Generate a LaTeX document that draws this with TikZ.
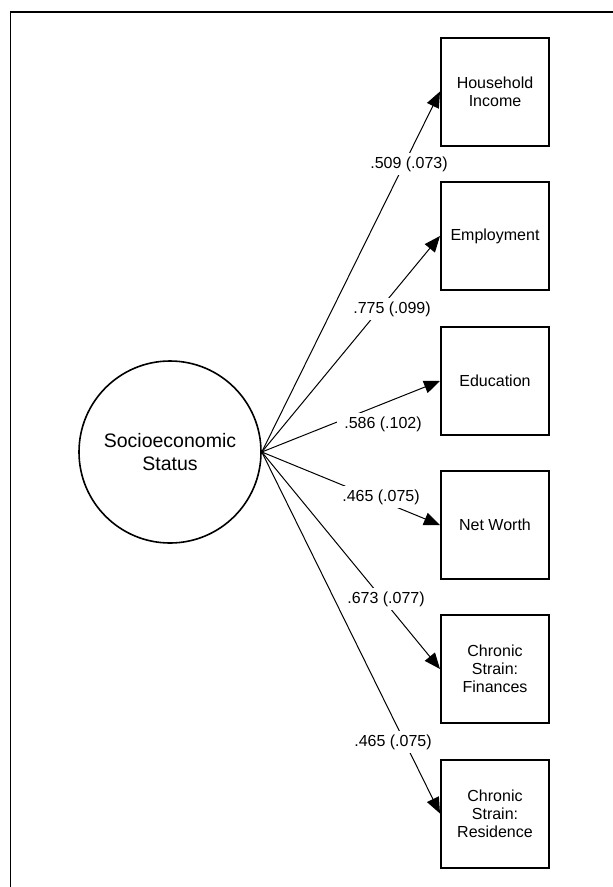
\documentclass[tikz,border=0pt]{standalone}
\usepackage{fontspec}
\setmainfont{Liberation Sans}
\usetikzlibrary{arrows.meta}
\begin{document}
\begin{tikzpicture}[x=1pt,y=-1pt,
  obsbox/.style={draw,line width=2pt,minimum width=108pt,minimum height=108pt,
    align=center,inner sep=0pt,font=\fontsize{16}{18}\selectfont},
  latent/.style={draw,circle,line width=1.6pt,minimum size=182pt,inner sep=0pt,
    align=center,font=\fontsize{19.5}{23}\selectfont},
  loadarrow/.style={line width=1pt,-{Triangle[length=16pt,width=13pt]}},
  coef/.style={fill=white,inner xsep=7pt,inner ysep=4pt,font=\fontsize{16}{18}\selectfont}
]
\path[use as bounding box] (0,0) rectangle (613,887);
\coordinate (frameTL) at (10.7,12);
\coordinate (frameTR) at (613,12);
\coordinate (frameBL) at (10.7,887);
\draw[line width=1.4pt] (frameTR) -- (frameTL) -- (frameBL);

\node[latent] (ses) at (170,452) {Socioeconomic\\Status};

\node[obsbox] (hi)  at (495,91.5)  {Household\\Income};
\node[obsbox] (emp) at (495,236)   {Employment};
\node[obsbox] (edu) at (495,381)   {Education};
\node[obsbox] (nw)  at (495,525)   {Net Worth};
\node[obsbox] (fin) at (495,669)   {Chronic\\Strain:\\Finances};
\node[obsbox] (res) at (495,813.5) {Chronic\\Strain:\\Residence};

\draw[loadarrow] (ses.east) -- (hi.west);
\draw[loadarrow] (ses.east) -- (emp.west);
\draw[loadarrow] (ses.east) -- (edu.west);
\draw[loadarrow] (ses.east) -- (nw.west);
\draw[loadarrow] (ses.east) -- (fin.west);
\draw[loadarrow] (ses.east) -- (res.west);

\node[coef] (l1) at (409,164) {.509 (.073)};
\node[coef] (l2) at (392,309) {.775 (.099)};
\node[coef] (l3) at (383,424) {.586 (.102)};
\node[coef] (l4) at (381,497) {.465 (.075)};
\node[coef] (l5) at (386,599) {.673 (.077)};
\node[coef] (l6) at (393,742) {.465 (.075)};
\end{tikzpicture}
\end{document}
